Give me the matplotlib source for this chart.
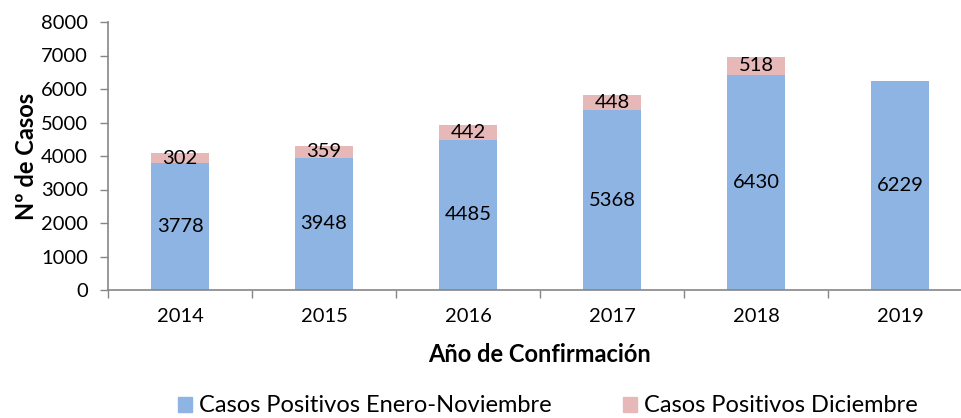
import matplotlib.pyplot as plt
from matplotlib.patches import Patch

years = ['2014', '2015', '2016', '2017', '2018', '2019']
ene_nov = [3778, 3948, 4485, 5368, 6430, 6229]
diciembre = [302, 359, 442, 448, 518, 0]

blue = '#8EB4E3'
pink = '#E6B9B8'
grey = '#868686'

plt.rcParams['font.family'] = ['Lato', 'DejaVu Sans']

fig = plt.figure(figsize=(9.62, 4.18), dpi=100)
ax = fig.add_axes([108 / 962, 128 / 418, 864 / 962, 268 / 418])

x = list(range(len(years)))
ax.bar(x, ene_nov, width=0.4, color=blue, edgecolor='none')
ax.bar(x, diciembre, width=0.4, bottom=ene_nov, color=pink, edgecolor='none')

# etiquetas de datos en el centro de cada segmento
for i in x:
    ax.text(i, ene_nov[i] / 2, str(ene_nov[i]), ha='center', va='center', fontsize=14.5)
    if diciembre[i] > 0:
        ax.text(i, ene_nov[i] + diciembre[i] / 2, str(diciembre[i]),
                ha='center', va='center', fontsize=14.5)

ax.set_xlim(-0.5, 5.5)
ax.set_ylim(0, 8000)
ax.set_yticks(range(0, 8001, 1000))
ax.set_xticks(x)
ax.set_xticklabels(years)
ax.set_xticks([i + 0.5 for i in range(-1, 5)], minor=True)
ax.tick_params(axis='x', which='major', length=0, pad=13, labelsize=14.5)
ax.tick_params(axis='x', which='minor', length=5.5, color=grey, width=1)
ax.tick_params(axis='y', length=5.5, color=grey, width=1, labelsize=14.5, pad=9)

for s in ['top', 'right']:
    ax.spines[s].set_visible(False)
for s in ['left', 'bottom']:
    ax.spines[s].set_color(grey)
    ax.spines[s].set_linewidth(1.2)

ax.set_ylabel('Nº de Casos', fontsize=17, fontweight='bold', labelpad=2)
ax.set_xlabel('Año de Confirmación', fontsize=17, fontweight='bold', labelpad=13)

handles = [Patch(color=blue, label='Casos Positivos Enero-Noviembre'),
           Patch(color=pink, label='Casos Positivos Diciembre')]
fig.legend(handles=handles, loc='center', bbox_to_anchor=(548 / 962, 1 - 406 / 418),
           ncol=2, frameon=False, fontsize=17, handlelength=0.6, handleheight=0.6,
           handletextpad=0.3, columnspacing=3.0, borderpad=0)

fig.savefig('out.png', dpi=100)
